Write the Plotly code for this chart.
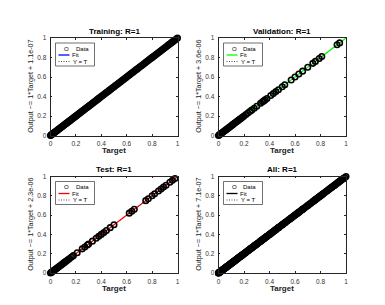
import plotly.graph_objects as go

# ---------------- data ----------------
panel_titles = ["Training: R=1", "Validation: R=1", "Test: R=1", "All: R=1"]
fit_colors = ["#0000ff", "#00ff00", "#ff0000", "#000000"]
fit_slopes = [1.0, 1.0, 1.0, 1.0]
fit_intercepts = [1.1e-07, 3.6e-06, 2.3e-06, 7.1e-07]
ylabels = ["Output ~= 1*Target + 1.1e-07", "Output ~= 1*Target + 3.6e-06",
           "Output ~= 1*Target + 2.3e-06", "Output ~= 1*Target + 7.1e-07"]
tick_vals = [0, 0.2, 0.4, 0.6, 0.8, 1]
tick_text = ["0", "0.2", "0.4", "0.6", "0.8", "1"]

train_target = [0, 0.004, 0.009, 0.013, 0.018, 0.024, 0.029, 0.035, 0.041, 0.046, 0.052, 0.058,
                0.063, 0.069, 0.075, 0.081, 0.086, 0.092, 0.098, 0.104, 0.11, 0.117, 0.123, 0.129,
                0.136, 0.142, 0.149, 0.155, 0.162, 0.168, 0.175, 0.181, 0.188, 0.195, 0.201, 0.208,
                0.215, 0.222, 0.229, 0.236, 0.243, 0.25, 0.257, 0.264, 0.271, 0.279, 0.286, 0.293,
                0.301, 0.308, 0.316, 0.323, 0.331, 0.338, 0.346, 0.354, 0.362, 0.37, 0.378, 0.386,
                0.394, 0.402, 0.41, 0.418, 0.427, 0.435, 0.443, 0.452, 0.46, 0.469, 0.477, 0.486,
                0.495, 0.503, 0.512, 0.521, 0.53, 0.539, 0.548, 0.557, 0.566, 0.575, 0.584, 0.593,
                0.602, 0.612, 0.621, 0.63, 0.64, 0.649, 0.659, 0.668, 0.678, 0.687, 0.697, 0.707,
                0.716, 0.726, 0.736, 0.746, 0.756, 0.766, 0.776, 0.786, 0.796, 0.806, 0.816, 0.826,
                0.836, 0.846, 0.857, 0.867, 0.877, 0.887, 0.898, 0.908, 0.918, 0.929, 0.939, 0.95,
                0.96, 0.97, 0.98, 0.99, 1.0]
train_output = [0, 0.004, 0.009, 0.013, 0.018, 0.024, 0.029, 0.035, 0.041, 0.046, 0.052, 0.058,
                0.063, 0.069, 0.075, 0.081, 0.086, 0.092, 0.098, 0.104, 0.11, 0.117, 0.123, 0.129,
                0.136, 0.142, 0.149, 0.155, 0.162, 0.168, 0.175, 0.181, 0.188, 0.195, 0.201, 0.208,
                0.215, 0.222, 0.229, 0.236, 0.243, 0.25, 0.257, 0.264, 0.271, 0.279, 0.286, 0.293,
                0.301, 0.308, 0.316, 0.323, 0.331, 0.338, 0.346, 0.354, 0.362, 0.37, 0.378, 0.386,
                0.394, 0.402, 0.41, 0.418, 0.427, 0.435, 0.443, 0.452, 0.46, 0.469, 0.477, 0.486,
                0.495, 0.503, 0.512, 0.521, 0.53, 0.539, 0.548, 0.557, 0.566, 0.575, 0.584, 0.593,
                0.602, 0.612, 0.621, 0.63, 0.64, 0.649, 0.659, 0.668, 0.678, 0.687, 0.697, 0.707,
                0.716, 0.726, 0.736, 0.746, 0.756, 0.766, 0.776, 0.786, 0.796, 0.806, 0.816, 0.826,
                0.836, 0.846, 0.857, 0.867, 0.877, 0.887, 0.898, 0.908, 0.918, 0.929, 0.939, 0.95,
                0.96, 0.97, 0.98, 0.99, 1.0]

val_target = [0, 0.006, 0.012, 0.018, 0.025, 0.031, 0.038, 0.045, 0.052, 0.06, 0.067, 0.075,
              0.083, 0.09, 0.098, 0.106, 0.114, 0.122, 0.13, 0.138, 0.146, 0.155, 0.163, 0.172,
              0.18, 0.19, 0.2, 0.215, 0.23, 0.245, 0.26, 0.28, 0.3, 0.33, 0.345, 0.355, 0.365,
              0.38, 0.41, 0.43, 0.45, 0.47, 0.5, 0.52, 0.57, 0.6, 0.63, 0.66, 0.7, 0.74, 0.76,
              0.79, 0.81, 0.93, 0.95]
val_output = [0, 0.006, 0.012, 0.018, 0.025, 0.031, 0.038, 0.045, 0.052, 0.06, 0.067, 0.075,
              0.083, 0.09, 0.098, 0.106, 0.114, 0.122, 0.13, 0.138, 0.146, 0.155, 0.163, 0.172,
              0.18, 0.19, 0.2, 0.215, 0.23, 0.245, 0.26, 0.28, 0.3, 0.33, 0.345, 0.355, 0.365,
              0.38, 0.41, 0.43, 0.45, 0.47, 0.5, 0.52, 0.57, 0.6, 0.63, 0.66, 0.7, 0.74, 0.76,
              0.79, 0.81, 0.93, 0.95]

test_target = [0, 0.006, 0.012, 0.019, 0.026, 0.033, 0.04, 0.047, 0.055, 0.062, 0.07, 0.078,
               0.086, 0.094, 0.102, 0.11, 0.12, 0.13, 0.14, 0.15, 0.165, 0.18, 0.21, 0.25, 0.27,
               0.29, 0.3, 0.33, 0.36, 0.38, 0.4, 0.42, 0.44, 0.47, 0.5, 0.62, 0.64, 0.66, 0.75,
               0.77, 0.8, 0.82, 0.85, 0.87, 0.89, 0.91, 0.94, 0.96, 0.98]
test_output = [0, 0.006, 0.012, 0.019, 0.026, 0.033, 0.04, 0.047, 0.055, 0.062, 0.07, 0.078,
               0.086, 0.094, 0.102, 0.11, 0.12, 0.13, 0.14, 0.15, 0.165, 0.18, 0.21, 0.25, 0.27,
               0.29, 0.3, 0.33, 0.36, 0.38, 0.4, 0.42, 0.44, 0.47, 0.5, 0.62, 0.64, 0.66, 0.75,
               0.77, 0.8, 0.82, 0.85, 0.87, 0.89, 0.91, 0.94, 0.96, 0.98]

all_target = train_target + val_target + test_target
all_output = train_output + val_output + test_output

targets = [train_target, val_target, test_target, all_target]
outputs = [train_output, val_output, test_output, all_output]

# ---------------- layout helpers ----------------
OFF = 8                      # page body margin
W, H = 385 - 2 * OFF, 305 - 2 * OFF
# axis boxes in window pixels: (left, right, top, bottom)
boxes = [(50.5, 177.5, 38, 135.5), (218.5, 346, 38, 135.5),
         (50.5, 177.5, 176.5, 273), (218.5, 346, 176.5, 273)]

def px(x):
    return (x - OFF) / W

def py(y):
    return 1 - (y - OFF) / H

FONT = "Liberation Sans, Arial, sans-serif"
DOTS = "1px,1.5px"
fig = go.Figure()
annotations = []
shapes = []

for i in range(4):
    ax = "" if i == 0 else str(i + 1)
    xa, ya = "x" + ax, "y" + ax
    l, r, t, b = boxes[i]
    fx = [0, 1]
    fy = [fit_slopes[i] * v + fit_intercepts[i] for v in fx]
    fig.add_trace(go.Scatter(x=[0, 1], y=[0, 1], mode="lines", xaxis=xa, yaxis=ya,
                             line=dict(color="black", width=0.8, dash=DOTS),
                             showlegend=False, hoverinfo="skip"))
    fig.add_trace(go.Scatter(x=fx, y=fy, mode="lines", xaxis=xa, yaxis=ya,
                             line=dict(color=fit_colors[i], width=1.2),
                             showlegend=False, hoverinfo="skip"))
    fig.add_trace(go.Scatter(x=targets[i], y=outputs[i], mode="markers", xaxis=xa, yaxis=ya,
                             marker=dict(symbol="circle-open", size=5.5, color="black",
                                         line=dict(width=1.6, color="black")),
                             cliponaxis=False, showlegend=False, hoverinfo="skip"))
    axcommon = dict(range=[0, 1], tickvals=tick_vals, ticktext=tick_text, ticks="inside",
                    ticklen=2, tickwidth=0.6, tickcolor="#262626", showline=True,
                    linecolor="#262626", linewidth=0.8, mirror="allticks", showgrid=False,
                    zeroline=False, automargin=False,
                    tickfont=dict(family=FONT, size=6.5, color="#333333"))
    fig.update_layout(**{
        "xaxis" + ax: dict(domain=[px(l), px(r)], anchor=ya, ticklabelstandoff=2, **axcommon),
        "yaxis" + ax: dict(domain=[py(b), py(t)], anchor=xa, ticklabelstandoff=2, **axcommon),
    })
    # title
    annotations.append(dict(text="<b>" + panel_titles[i] + "</b>", x=px((l + r) / 2), y=py(t - 0.5),
                            xref="paper", yref="paper", xanchor="center", yanchor="bottom",
                            showarrow=False, font=dict(family=FONT, size=8, color="black")))
    # x label
    annotations.append(dict(text="<b>Target</b>", x=px((l + r) / 2), y=py(b + 15),
                            xref="paper", yref="paper", xanchor="center", yanchor="middle",
                            showarrow=False, font=dict(family=FONT, size=8, color="#222222")))
    # y label
    annotations.append(dict(text=ylabels[i], x=px(l - 19.5), y=py((t + b) / 2), textangle=-90,
                            xref="paper", yref="paper", xanchor="center", yanchor="middle",
                            showarrow=False, font=dict(family=FONT, size=7.2, color="#222222")))
    # legend box
    shapes.append(dict(type="rect", xref="paper", yref="paper", x0=px(l + 5), x1=px(l + 44),
                       y0=py(t + 5), y1=py(t + 28), line=dict(color="#333333", width=0.7),
                       fillcolor="white", layer="above"))
    # legend rows
    r1, r2, r3 = t + 10.5, t + 17, t + 23.5
    annotations.append(dict(text="O", x=px(l + 15.5), y=py(r1), xref="paper", yref="paper",
                            xanchor="center", yanchor="middle", showarrow=False,
                            font=dict(family=FONT, size=6, color="black")))
    annotations.append(dict(text="Data", x=px(l + 23), y=py(r1), xref="paper", yref="paper",
                            xanchor="left", yanchor="middle", showarrow=False,
                            font=dict(family=FONT, size=6, color="black")))
    shapes.append(dict(type="line", xref="paper", yref="paper", x0=px(l + 8), x1=px(l + 19),
                       y0=py(r2), y1=py(r2), line=dict(color=fit_colors[i], width=1.3),
                       layer="above"))
    annotations.append(dict(text="Fit", x=px(l + 19.5), y=py(r2), xref="paper", yref="paper",
                            xanchor="left", yanchor="middle", showarrow=False,
                            font=dict(family=FONT, size=6, color="black")))
    shapes.append(dict(type="line", xref="paper", yref="paper", x0=px(l + 8), x1=px(l + 19),
                       y0=py(r3), y1=py(r3), line=dict(color="black", width=0.7, dash=DOTS),
                       layer="above"))
    annotations.append(dict(text="Y = T", x=px(l + 20), y=py(r3), xref="paper", yref="paper",
                            xanchor="left", yanchor="middle", showarrow=False,
                            font=dict(family=FONT, size=6, color="black")))

fig.update_layout(width=W, height=H, margin=dict(l=0, r=0, t=0, b=0),
                  paper_bgcolor="white", plot_bgcolor="white",
                  annotations=annotations, shapes=shapes, showlegend=False)

fig.write_html("out.html")
